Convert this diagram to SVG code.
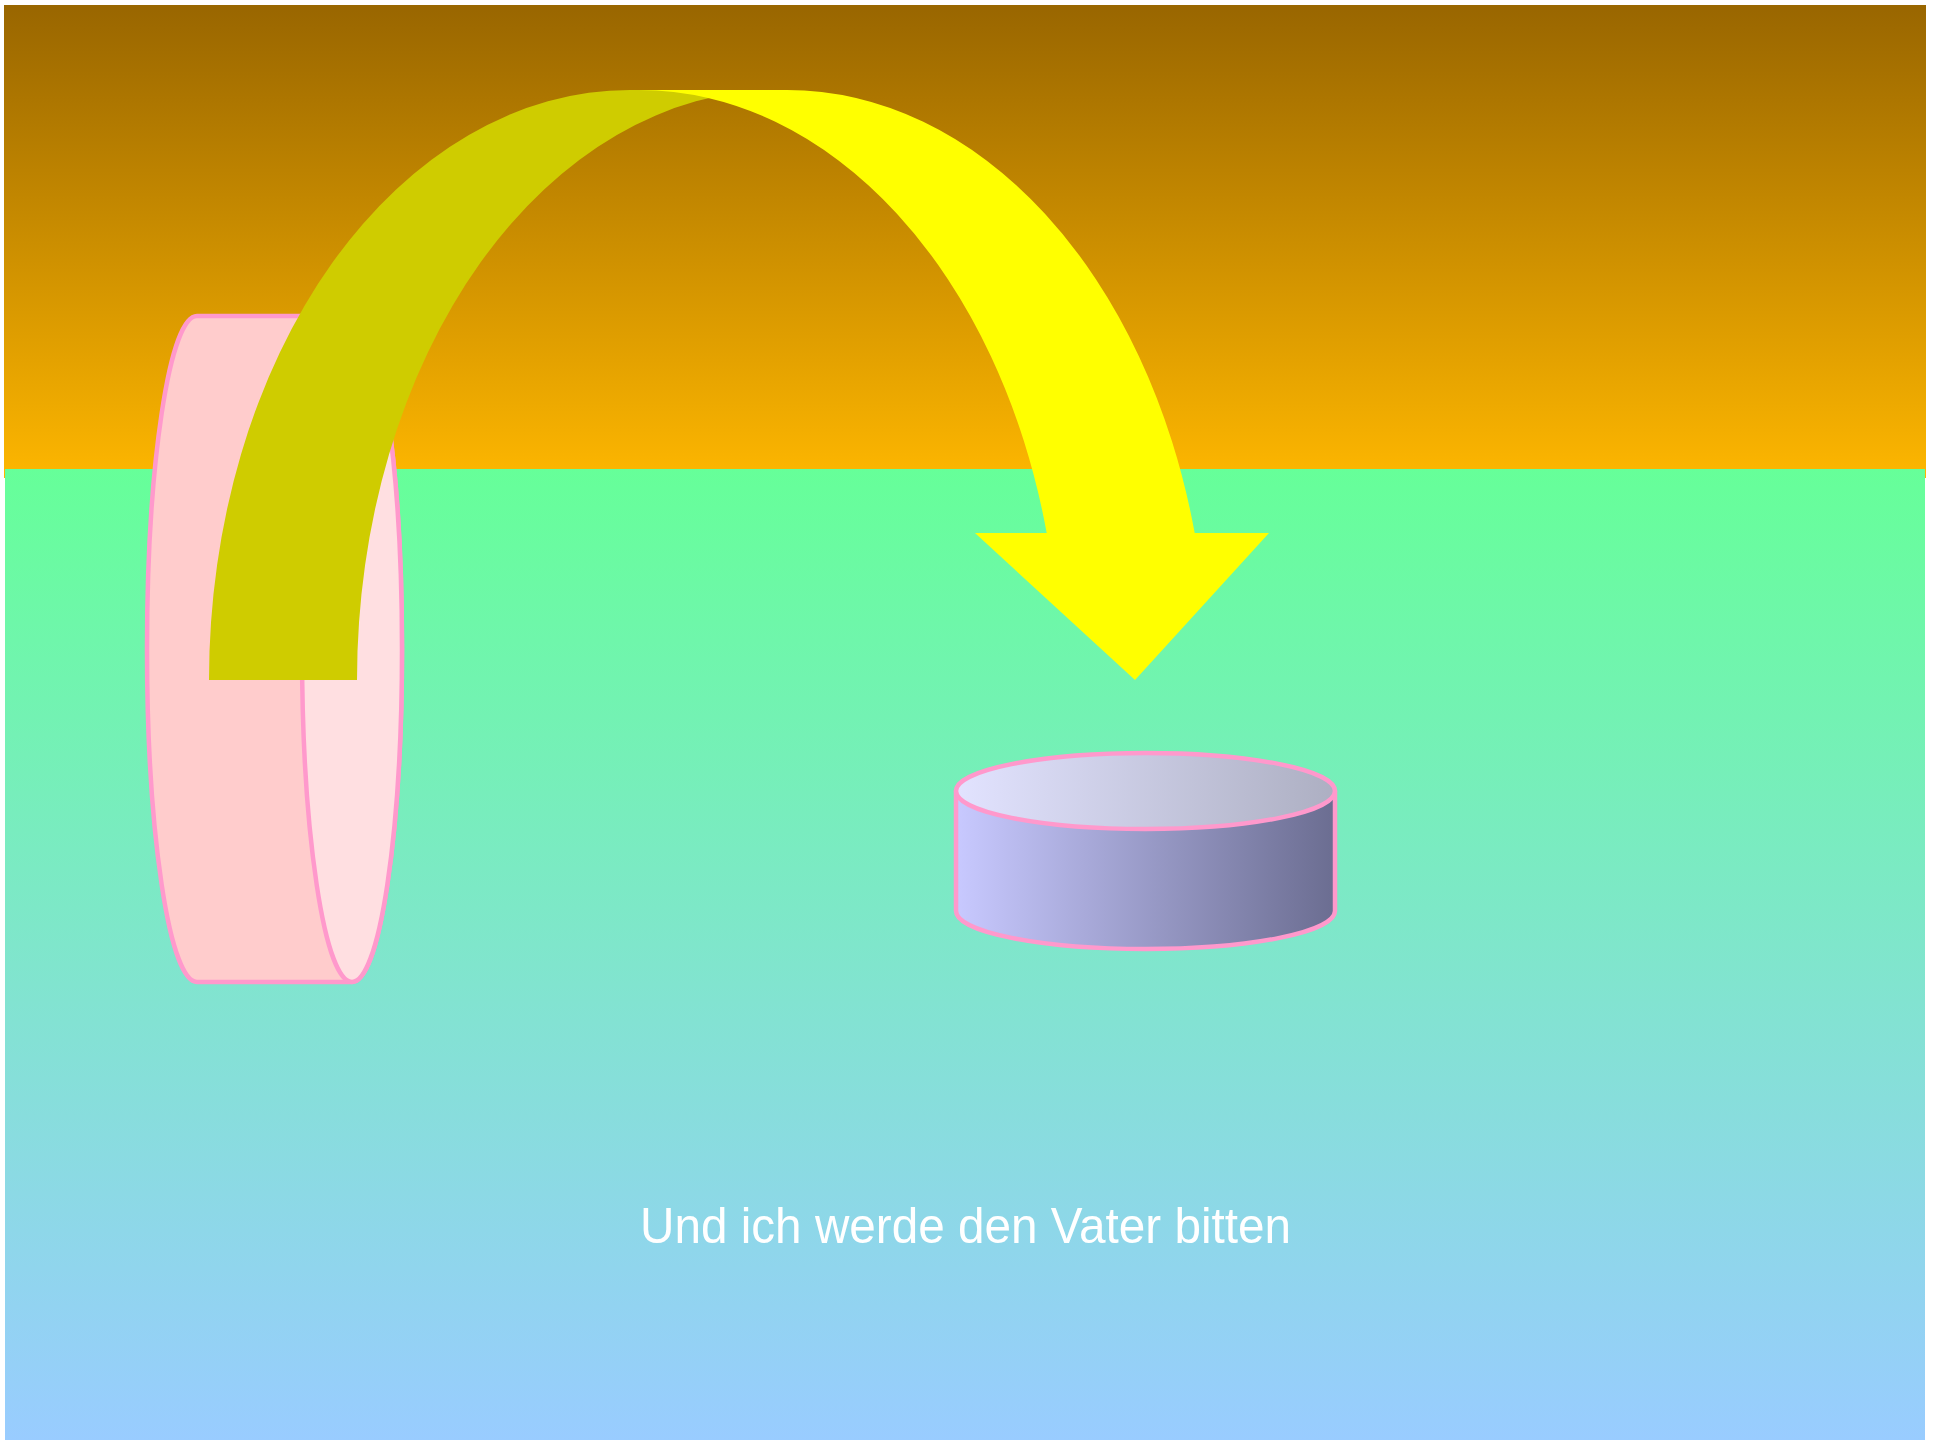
<svg xmlns="http://www.w3.org/2000/svg" width="1945" height="1442" viewBox="0 0 1945 1442">
<defs>
<linearGradient id="gSky" x1="0" y1="0" x2="0" y2="1"><stop offset="0" stop-color="#996600"/><stop offset="1" stop-color="#FDB600"/></linearGradient>
<linearGradient id="gGround" x1="0" y1="0" x2="0" y2="1"><stop offset="0" stop-color="#66FF99"/><stop offset="1" stop-color="#99CCFF"/></linearGradient>
<linearGradient id="gSide" x1="0" y1="0" x2="1" y2="0"><stop offset="0" stop-color="#C8C9FF"/><stop offset="1" stop-color="#6B6D91"/></linearGradient>
<linearGradient id="gTop" x1="0" y1="0" x2="1" y2="0"><stop offset="0" stop-color="#E2E3FF"/><stop offset="1" stop-color="#ADAFC2"/></linearGradient>
<style>
.edge{stroke:#FF99CC;stroke-width:4.5;stroke-linejoin:round}
.lbl{font-family:"Liberation Sans",Arial,sans-serif;font-size:50px;fill:#FFFFFF}
</style>
</defs>
<rect x="4" y="5" width="1922" height="473" fill="url(#gSky)"/>
<rect x="5" y="469" width="1920" height="971" fill="url(#gGround)"/>
<g id="node-disk">
<path class="edge" fill="#FFCCCC" d="M197,316 L352,316 A50,333 0 0 1 352,982 L197,982 A50,333 0 0 1 197,316 Z"/>
<ellipse class="edge" fill="#FFDFE1" cx="352" cy="649" rx="50" ry="333"/>
</g>
<g id="connectors">
<path fill="#CFCC00" d="M209,680 A421,590 0 0 1 630,90 L778,90 A421,590 0 0 0 357,680 Z"/>
<path fill="#FFFF00" d="M639,90 L787,90 A421,590 0 0 1 1194.7,533 L1269,533 L1135,680 L975,533 L1046.7,533 A421,590 0 0 0 639,90 Z"/>
</g>
<g id="node-cylinder">
<path class="edge" fill="url(#gSide)" d="M956,791 L956,911 A189.5,38 0 0 0 1335,911 L1335,791 Z"/>
<ellipse class="edge" fill="url(#gTop)" cx="1145.5" cy="791" rx="189.5" ry="38"/>
</g>
<g id="node-label">
<text class="lbl" x="965.5" y="1243" text-anchor="middle" textLength="651" lengthAdjust="spacingAndGlyphs">Und ich werde den Vater bitten</text>
</g>
</svg>
